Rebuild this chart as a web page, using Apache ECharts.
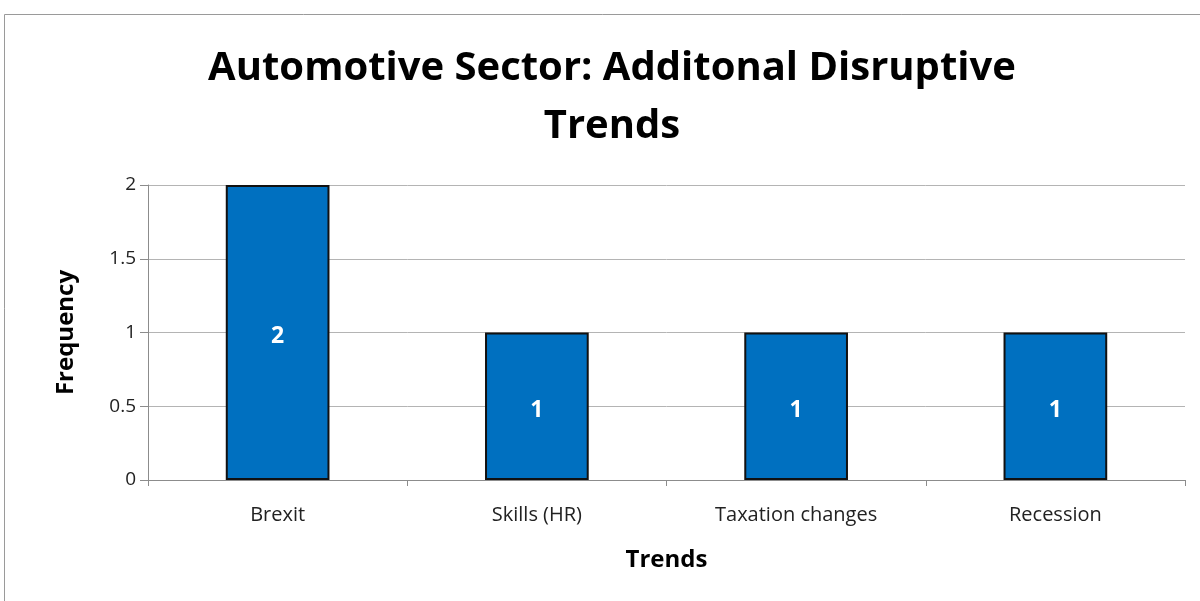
<!DOCTYPE html>
<html>
<head>
<meta charset="utf-8">
<script src="https://cdn.jsdelivr.net/npm/echarts@6/dist/echarts.min.js"></script>
<style>
  html, body { margin: 0; padding: 0; background: #fff; }
  #chart { width: 1200px; height: 601px; }
</style>
</head>
<body>
<div id="chart"></div>
<script>
const categories = ['Brexit', 'Skills (HR)', 'Taxation changes', 'Recession'];
const frequency = [2, 1, 1, 1];
const yTicks = [0, 0.5, 1, 1.5, 2];

const fontFamily = '"Open Sans", "Noto Sans", sans-serif';
const chart = echarts.init(document.getElementById('chart'));

chart.setOption({
  backgroundColor: '#ffffff',
  animation: false,
  title: {
    text: 'Automotive Sector: Additonal Disruptive\nTrends',
    left: 607,
    top: 35,
    textAlign: 'center',
    textStyle: {
      fontFamily: fontFamily,
      fontSize: 40,
      fontWeight: 'bold',
      color: '#000',
      lineHeight: 58
    }
  },
  // thin frame around the chart area
  graphic: [{
    type: 'rect',
    shape: { x: 4.5, y: 14.5, width: 1300, height: 700 },
    style: { fill: 'none', stroke: '#9a9a9a', lineWidth: 1 },
    silent: true
  }],
  grid: { left: 148, right: 15, top: 185, bottom: 121 },
  xAxis: {
    type: 'category',
    data: categories,
    name: 'Trends',
    nameLocation: 'middle',
    nameGap: 68,
    nameTextStyle: { fontFamily: fontFamily, fontSize: 24, fontWeight: 'bold', color: '#000' },
    axisLine: { lineStyle: { color: '#8c8c8c', width: 1 } },
    axisTick: { show: true, length: 6, lineStyle: { color: '#8c8c8c' } },
    axisLabel: { fontFamily: fontFamily, fontSize: 20, color: '#222', margin: 25 },
    splitLine: { show: false }
  },
  yAxis: {
    type: 'value',
    min: yTicks[0],
    max: yTicks[yTicks.length - 1],
    interval: yTicks[1] - yTicks[0],
    name: 'Frequency',
    nameLocation: 'middle',
    nameGap: 70,
    nameRotate: 90,
    nameTextStyle: { fontFamily: fontFamily, fontSize: 24, fontWeight: 'bold', color: '#000' },
    axisLine: { show: true, lineStyle: { color: '#8c8c8c', width: 1 } },
    axisTick: { show: true, length: 8, lineStyle: { color: '#8c8c8c' } },
    axisLabel: { fontFamily: fontFamily, fontSize: 19, color: '#222', margin: 12 },
    splitLine: { show: true, lineStyle: { color: '#b4b4b4', width: 1 } }
  },
  series: [{
    type: 'bar',
    data: frequency,
    barWidth: '40%',
    itemStyle: { color: '#0070C0', borderColor: '#111', borderWidth: 2 },
    label: {
      show: true,
      position: 'inside',
      offset: [0, 4],
      fontFamily: fontFamily,
      fontSize: 23,
      fontWeight: 'bold',
      color: '#ffffff'
    }
  }]
});
</script>
</body>
</html>
